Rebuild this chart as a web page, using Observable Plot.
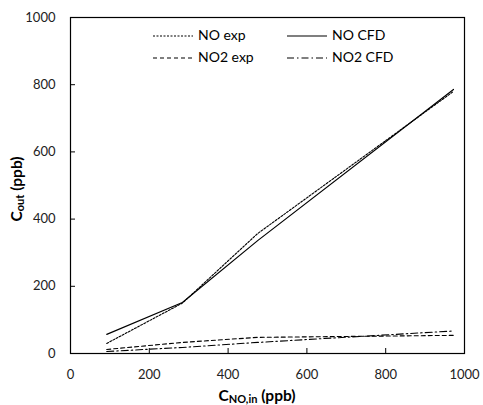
<!DOCTYPE html>
<html><head><meta charset="utf-8">
<script src="https://cdn.jsdelivr.net/npm/d3@7"></script>
<script src="https://cdn.jsdelivr.net/npm/@observablehq/plot@0.6"></script>
<style>body{margin:0;background:#fff;} svg{display:block;}</style>
</head><body><div id="chart"></div>
<script>
// Data
const cIn = [92, 284, 475, 972];          // C_NO,in (ppb)
const noExp = [30, 150, 357, 780];
const noCfd = [57, 152, 336, 786];
const no2Exp = [12, 33, 48, 54];
const no2Cfd = [6, 18, 33, 67];
const seriesNames = ["NO exp", "NO CFD", "NO2 exp", "NO2 CFD"];
const xTicks = [0, 200, 400, 600, 800, 1000];
const yTicks = [0, 200, 400, 600, 800, 1000];

const seriesValues = [noExp, noCfd, no2Exp, no2Cfd];
const dashes = {"NO exp": "2,1.5", "NO CFD": null, "NO2 exp": "4,3", "NO2 CFD": "7,3,1.5,3"};
const widths = {"NO exp": 1.1, "NO CFD": 1.2, "NO2 exp": 1.1, "NO2 CFD": 1.1};

const rows = [];
seriesNames.forEach((s, i) => cIn.forEach((x, j) => rows.push({series: s, x, y: seriesValues[i][j]})));

const font = "Lato, 'Open Sans', sans-serif";
const W = 483, H = 405;
const mL = 70, mR = 19, mT = 17, mB = 52;

const lineMarks = seriesNames.map(s => Plot.line(rows.filter(r => r.series === s), {
  x: "x", y: "y", stroke: "#000", strokeWidth: widths[s], strokeDasharray: dashes[s] ?? undefined
}));

const fmt = d3.format("d");
const chart = Plot.plot({
  width: W, height: H,
  marginLeft: mL, marginRight: mR, marginTop: mT, marginBottom: mB,
  style: {fontFamily: font, fontSize: "13px", color: "#000", background: "#fff", overflow: "visible"},
  x: {domain: [0, 1000]},
  y: {domain: [0, 1000]},
  marks: [
    ...lineMarks,
    Plot.axisX({ticks: xTicks, tickSize: -5, text: null, label: null, stroke: "#000"}),
    Plot.axisX({ticks: xTicks, tickSize: 0, tickPadding: 16, label: null, fontSize: 13, fill: "#222", tickFormat: fmt}),
    Plot.axisY({ticks: yTicks, tickSize: -5, text: null, label: null, stroke: "#000"}),
    Plot.axisY({ticks: yTicks, tickSize: 0, tickPadding: 15, label: null, fontSize: 13, fill: "#222", tickFormat: fmt}),
    Plot.frame({stroke: "#000", strokeWidth: 1.2})
  ]
});
document.getElementById("chart").appendChild(chart);

const svg = d3.select(chart);
// Axis titles
const yt = svg.append("text")
  .attr("transform", `translate(18,189) rotate(-90)`)
  .attr("text-anchor", "middle").attr("dominant-baseline", "middle")
  .attr("font-family", font).attr("font-size", 15.5).attr("font-weight", "bold").attr("fill", "#000");
yt.append("tspan").text("C");
yt.append("tspan").text("out").attr("font-size", 11).attr("dy", 3);
yt.append("tspan").text(" (ppb)").attr("dy", -3);

const xt = svg.append("text")
  .attr("x", 257).attr("y", 397)
  .attr("text-anchor", "middle").attr("dominant-baseline", "middle")
  .attr("font-family", font).attr("font-size", 15.5).attr("font-weight", "bold").attr("fill", "#000");
xt.append("tspan").text("C");
xt.append("tspan").text("NO,in").attr("font-size", 11).attr("dy", 3);
xt.append("tspan").text(" (ppb)").attr("dy", -3);

// Legend
const legendPos = [
  {s: "NO exp", x: 153, y: 36},
  {s: "NO CFD", x: 287, y: 36},
  {s: "NO2 exp", x: 153, y: 58},
  {s: "NO2 CFD", x: 287, y: 58}
];
const lg = svg.append("g");
legendPos.forEach(p => {
  lg.append("line").attr("x1", p.x).attr("x2", p.x + 40).attr("y1", p.y).attr("y2", p.y)
    .attr("stroke", "#000").attr("stroke-width", widths[p.s])
    .attr("stroke-dasharray", dashes[p.s]);
  lg.append("text").attr("x", p.x + 45).attr("y", p.y).attr("dominant-baseline", "middle")
    .attr("text-anchor", "start")
    .attr("font-family", font).attr("font-size", 14).attr("fill", "#000").text(p.s);
});
</script>
</body></html>
